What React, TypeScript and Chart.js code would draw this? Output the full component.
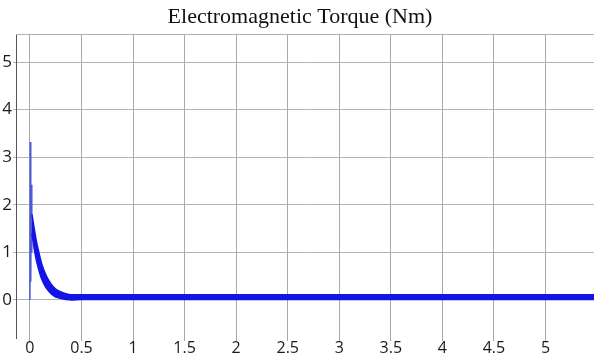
import React, { useEffect, useRef } from "react";
import { Chart, registerables } from "chart.js";

Chart.register(...registerables);

const TITLE = "Electromagnetic Torque (Nm)";

// initial transient spikes (thin trace)
const spikeTime = [0.0, 0.004, 0.008, 0.012, 0.016, 0.02, 0.024];
const spikeTorque = [0.0, 3.32, 0.38, 2.42, 1.0, 1.7, 1.55];

// noisy band envelope
const bandTime = [0.02, 0.04, 0.06, 0.08, 0.1, 0.12, 0.15, 0.18, 0.21, 0.25, 0.3, 0.35, 0.4, 0.5, 1.0, 1.5, 2.0, 2.5, 3.0, 3.5, 4.0, 4.5, 5.0, 5.5];
const bandUpper = [1.8, 1.52, 1.27, 1.06, 0.88, 0.72, 0.55, 0.42, 0.32, 0.23, 0.17, 0.13, 0.11, 0.11, 0.11, 0.11, 0.11, 0.11, 0.11, 0.11, 0.11, 0.11, 0.11, 0.11];
const bandLower = [1.4, 1.1, 0.86, 0.68, 0.53, 0.41, 0.28, 0.19, 0.12, 0.06, 0.03, 0.01, 0.0, 0.01, 0.01, 0.01, 0.01, 0.01, 0.01, 0.01, 0.01, 0.01, 0.01, 0.01];

const xTickStep = 0.5;
const yTickStep = 1;

const toXY = (xs: number[], ys: number[]) => xs.map((x, i) => ({ x, y: ys[i] }));

export default function App() {
  const ref = useRef<HTMLCanvasElement>(null);
  useEffect(() => {
    document.body.style.margin = "0";
    const titlePlugin = {
      id: "customTitle",
      afterDraw(chart: any) {
        const ctx = chart.ctx;
        const a = chart.chartArea;
        ctx.save();
        ctx.font = '22px "Liberation Serif", "Times New Roman", serif';
        ctx.fillStyle = "#111";
        ctx.textAlign = "center";
        ctx.textBaseline = "middle";
        ctx.fillText(TITLE, 300, 17);
        ctx.strokeStyle = "#b0b0b0";
        ctx.lineWidth = 1;
        ctx.beginPath();
        ctx.moveTo(a.left, a.top + 0.5);
        ctx.lineTo(a.right, a.top + 0.5);
        ctx.stroke();
        ctx.restore();
      },
    };
    const chart = new Chart(ref.current!, {
      type: "line",
      data: {
        datasets: [
          {
            data: toXY(bandTime, bandUpper),
            borderColor: "#1414e6",
            backgroundColor: "#1414e6",
            borderWidth: 1.5,
            pointRadius: 0,
            fill: false,
            tension: 0.2,
          },
          {
            data: toXY(bandTime, bandLower),
            borderColor: "#1414e6",
            backgroundColor: "#1414e6",
            borderWidth: 1.5,
            pointRadius: 0,
            fill: 0,
            tension: 0.2,
          },
          {
            data: toXY(spikeTime, spikeTorque),
            borderColor: "#4a5ad8",
            backgroundColor: "#4a5ad8",
            borderWidth: 1.5,
            pointRadius: 0,
            fill: false,
          },
        ],
      },
      options: {
        animation: false,
        responsive: false,
        maintainAspectRatio: false,
        layout: { padding: { top: 34, right: 0, left: 0, bottom: 0 } },
        plugins: { legend: { display: false }, tooltip: { enabled: false }, title: { display: false } },
        scales: {
          x: {
            type: "linear",
            min: -0.135,
            max: 5.47,
            afterFit: (s: any) => { s.height = 17; },
            border: { display: false },
            grid: { color: "#a8a8a8", tickLength: 3, lineWidth: 1 },
            ticks: {
              stepSize: xTickStep,
              includeBounds: false,
              padding: -2,
              maxRotation: 0,
              autoSkip: false,
              color: "#1a1a1a",
              font: { family: '"Open Sans", sans-serif', size: 16 },
              callback: (v: any) => String(Math.round(Number(v) * 10) / 10),
            },
          },
          y: {
            type: "linear",
            min: -0.8,
            max: 5.59,
            afterFit: (s: any) => { s.width = 16; },
            border: { display: true, color: "#555", width: 1 },
            grid: { color: "#b4b4b4", tickLength: 3, lineWidth: 1 },
            ticks: {
              stepSize: yTickStep,
              includeBounds: false,
              padding: 1,
              color: "#1a1a1a",
              font: { family: '"Open Sans", sans-serif', size: 17 },
            },
          },
        },
      },
      plugins: [titlePlugin],
    });
    return () => chart.destroy();
  }, []);
  return (
    <div style={{ width: 594, height: 355, background: "#fff" }}>
      <canvas ref={ref} width={594} height={355} />
    </div>
  );
}
